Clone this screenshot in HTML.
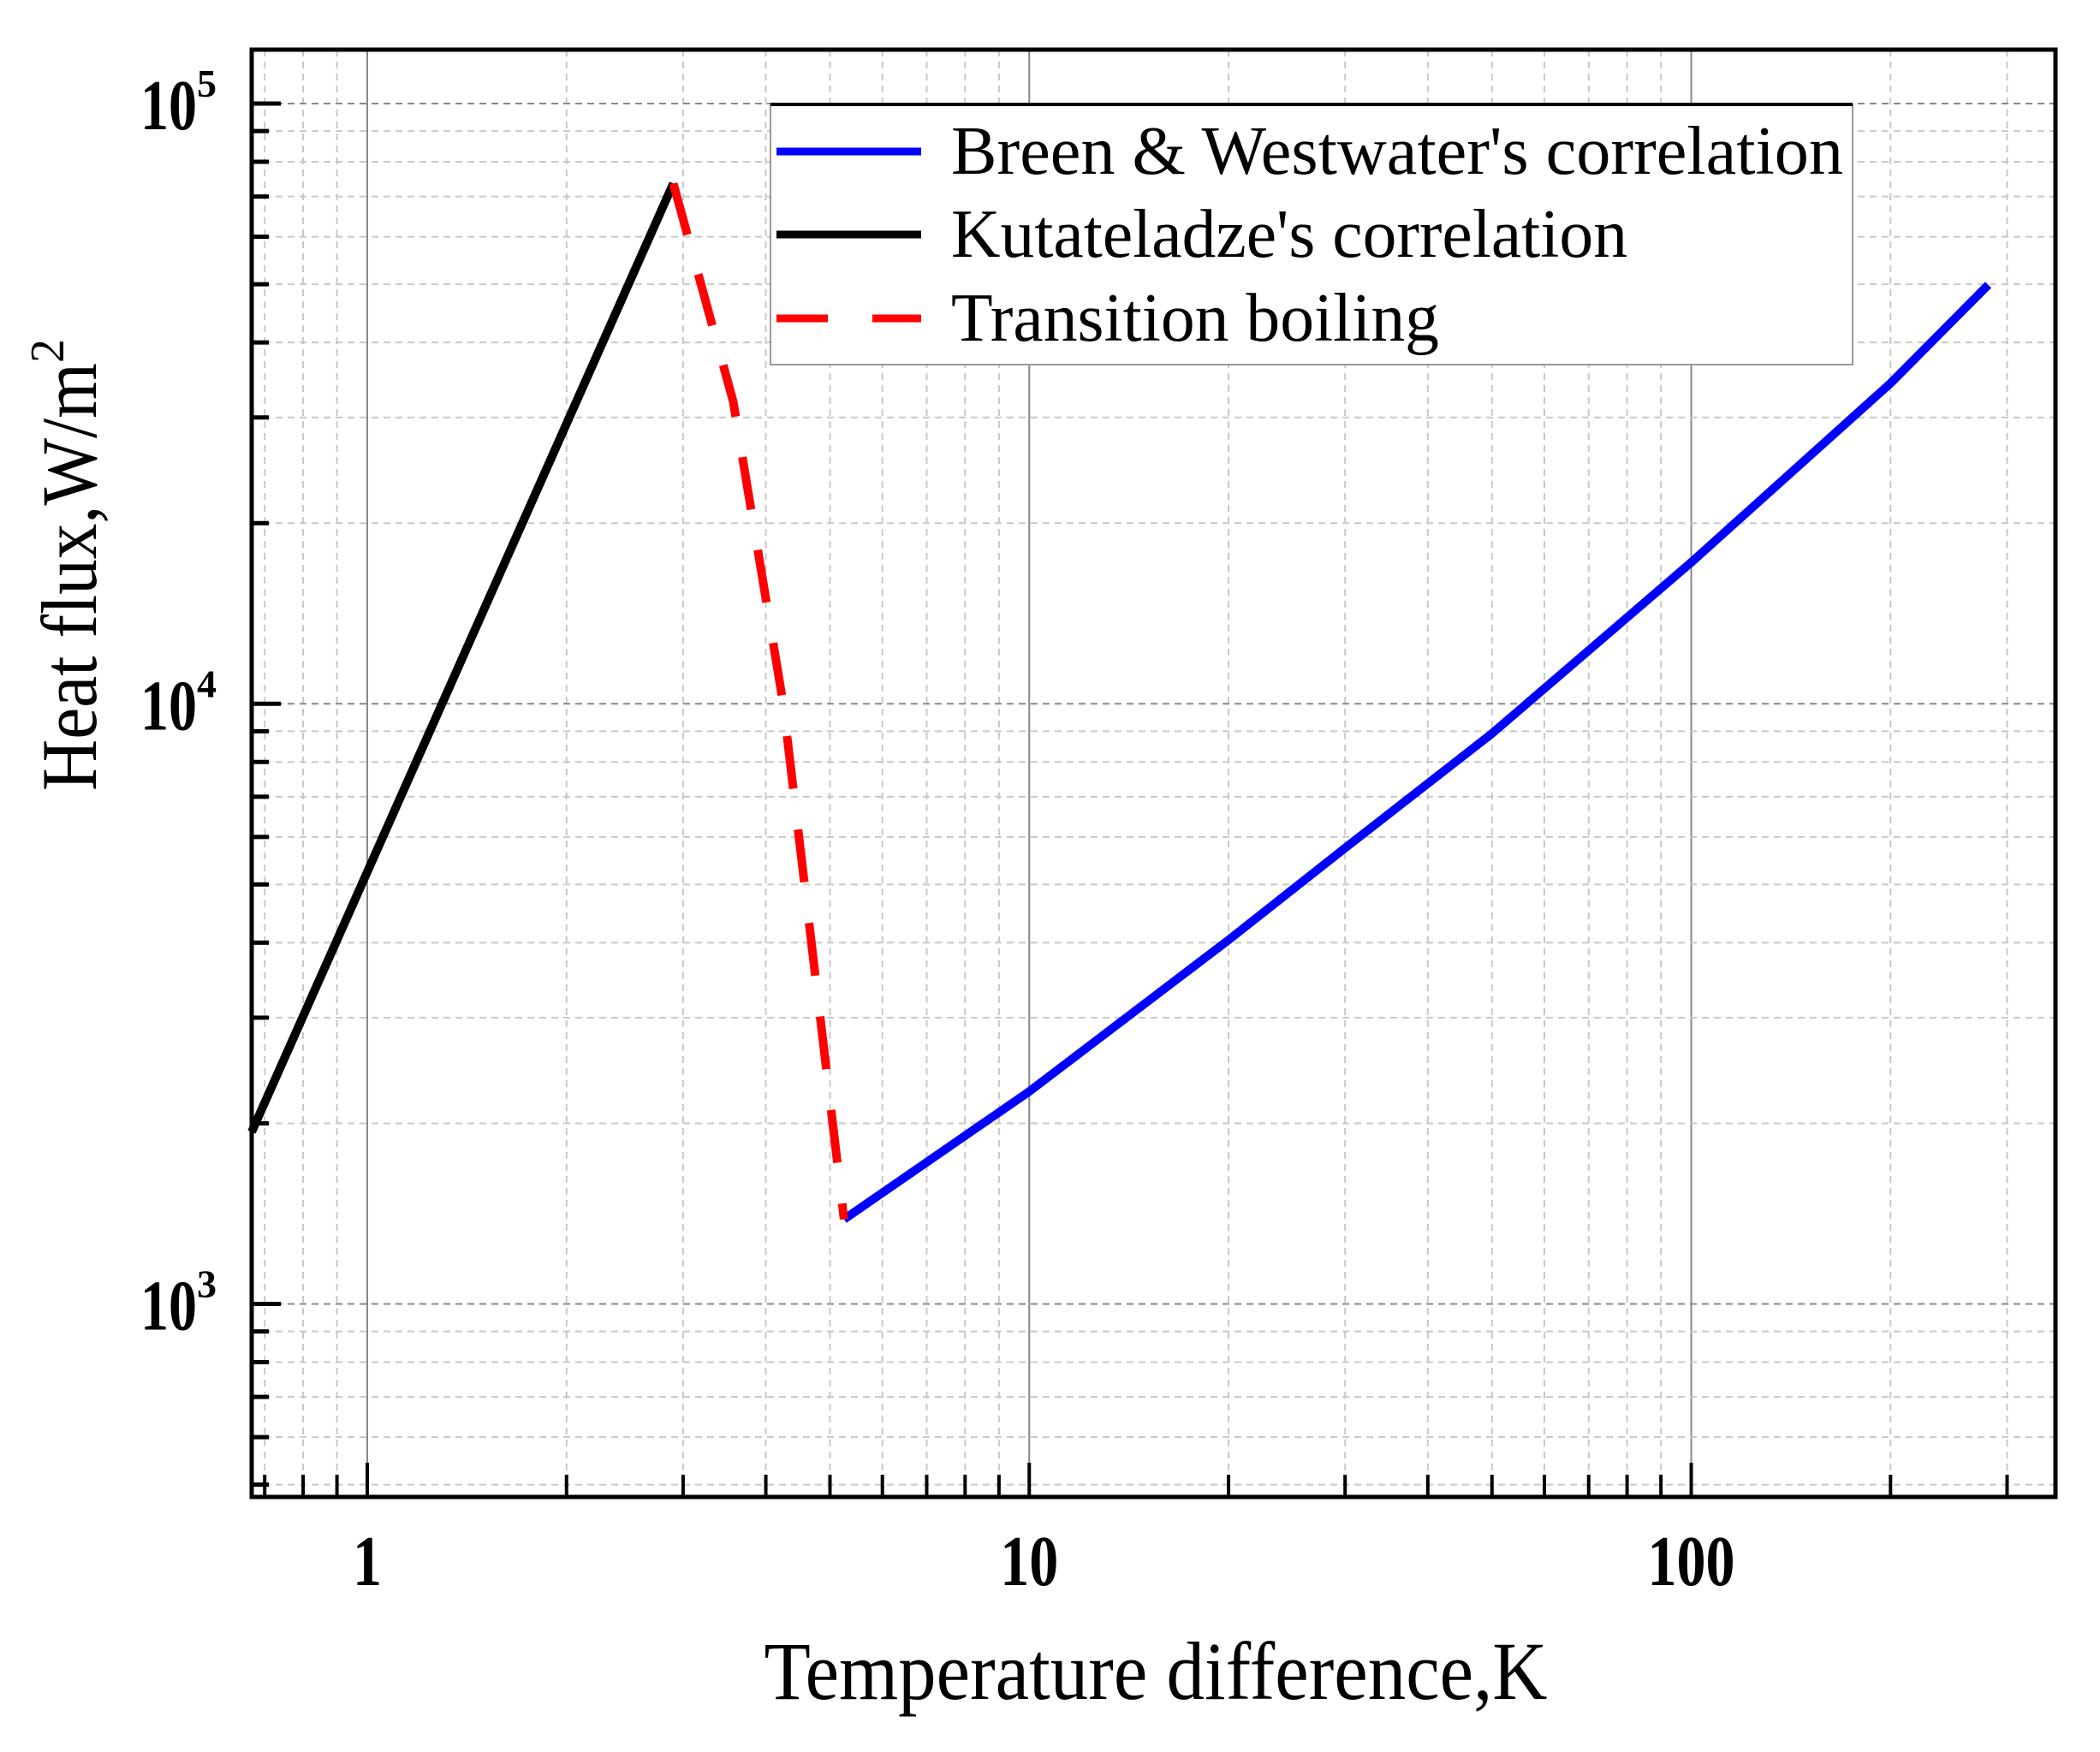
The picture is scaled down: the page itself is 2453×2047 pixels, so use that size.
<!DOCTYPE html>
<html><head><meta charset="utf-8"><style>html,body{margin:0;padding:0;background:#fff}svg{display:block}</style></head>
<body>
<svg id="chart" width="2453" height="2047" viewBox="0 0 2453 2047" xmlns="http://www.w3.org/2000/svg" font-family="'Liberation Serif', serif">
<rect width="2453" height="2047" fill="#fff"/>
<g id="grid"></g>
<g id="series"></g>
<g id="axes"></g>
<g id="legend">
  <rect x="900" y="122" width="1264" height="304" fill="#fff" stroke="#999" stroke-width="2"/>
  <line x1="900" y1="122" x2="2164" y2="122" stroke="#000" stroke-width="4"/>
  <line x1="907" y1="177" x2="1076" y2="177" stroke="#0000ff" stroke-width="9"/>
  <text x="1111" y="203" font-size="80" textLength="1042" lengthAdjust="spacingAndGlyphs">Breen &amp; Westwater's correlation</text>
  <line x1="907" y1="274" x2="1076" y2="274" stroke="#000" stroke-width="9"/>
  <text x="1111" y="300" font-size="80" textLength="790" lengthAdjust="spacingAndGlyphs">Kutateladze's correlation</text>
  <line x1="907" y1="372" x2="1076" y2="372" stroke="#ff0000" stroke-width="9" stroke-dasharray="60,52"/>
  <text x="1111" y="398" font-size="80" textLength="570" lengthAdjust="spacingAndGlyphs">Transition boiling</text>
</g>
<text x="1350" y="1985" font-size="96" text-anchor="middle" textLength="915" lengthAdjust="spacingAndGlyphs">Temperature difference,K</text>
<text transform="translate(112,660) rotate(-90)" font-size="92" text-anchor="middle"><tspan textLength="500" lengthAdjust="spacingAndGlyphs">Heat flux,W/m</tspan><tspan dy="-38" font-size="56">2</tspan></text>
<script>
const breenX = [5.25, 10, 20, 30, 50, 100, 200, 281];
const breenY = [1384, 2260, 4040, 5750, 8920, 17200, 34200, 49900];
const kutX = [0.669, 2.9];
const kutY = [1935, 73600];
const transX = [2.9, 3.57, 4.25, 5.25];
const transY = [73600, 31900, 10000, 1384];
const xTickVals = [1, 10, 100];
const xTickLabels = ["1", "10", "100"];
const yTickExps = [3, 4, 5];

const L=294,R=2401,T=58,B=1749;
const xMin=Math.log10(0.669), xMax=Math.log10(355);
const yMin=Math.log10(477), yMax=Math.log10(123000);
const sx=v=>L+(Math.log10(v)-xMin)/(xMax-xMin)*(R-L);
const sy=v=>B-(Math.log10(v)-yMin)/(yMax-yMin)*(B-T);
const NS="http://www.w3.org/2000/svg";
function mk(tag,attrs,parent){const e=document.createElementNS(NS,tag);for(const k in attrs)e.setAttribute(k,attrs[k]);parent.appendChild(e);return e;}
const grid=document.getElementById('grid'), axes=document.getElementById('axes'), series=document.getElementById('series');

for(let d=-1;d<=2;d++){for(let m=1;m<=9;m++){const v=m*Math.pow(10,d);if(v<0.669||v>355)continue;const x=sx(v);
 const g=mk('line',{x1:x,y1:T,x2:x,y2:B,stroke:m===1?'#888':'#c8c8c8','stroke-width':2,'stroke-dasharray':m===1?'none':'8,6'},grid);
 
 const t=mk('line',{x1:x,y1:B,x2:x,y2:B-(m===1?40:26),stroke:'#000','stroke-width':4},axes);
 }}
for(let d=2;d<=5;d++){for(let m=1;m<=9;m++){const v=m*Math.pow(10,d);if(v<477||v>123000)continue;const y=sy(v);
 const g=mk('line',{x1:L,y1:y,x2:R,y2:y,stroke:m===1?'#888':'#c8c8c8','stroke-width':2,'stroke-dasharray':'8,6'},grid);
 
 const t=mk('line',{x1:L,y1:y,x2:L+(m===1?34:20),y2:y,stroke:'#000','stroke-width':5},axes);
 }}
const fr=mk('rect',{x:L,y:T,width:R-L,height:B-T,fill:'none',stroke:'#000','stroke-width':5},axes);

xTickVals.forEach((v,i)=>{const t=mk('text',{x:sx(v),y:1852,'font-size':84,'font-weight':'bold','text-anchor':'middle',textLength:34*xTickLabels[i].length,lengthAdjust:'spacingAndGlyphs'},axes);t.textContent=xTickLabels[i];
 });
yTickExps.forEach(e=>{const t=mk('text',{x:164,y:sy(Math.pow(10,e))+30,'font-size':84,'font-weight':'bold'},axes);
 const a=mk('tspan',{textLength:66,lengthAdjust:'spacingAndGlyphs'},t);a.textContent='10';
 const s=mk('tspan',{dy:-38,'font-size':46},t);s.textContent=String(e);
 });
function path(xs,ys,attrs,name){const d=xs.map((x,i)=>(i?'L':'M')+sx(x).toFixed(1)+','+sy(ys[i]).toFixed(1)).join(' ');
 const p=mk('path',Object.assign({d:d,fill:'none','stroke-width':10,'stroke-linejoin':'round'},attrs),series);
 }
path(kutX,kutY,{stroke:'#000'},'kutateladze-line');
path(breenX,breenY,{stroke:'#0000ff'},'breen-westwater-line');
path(transX,transY,{stroke:'#ff0000','stroke-dasharray':'62,48'},'transition-boiling-line');
</script>
</svg>
</body></html>
